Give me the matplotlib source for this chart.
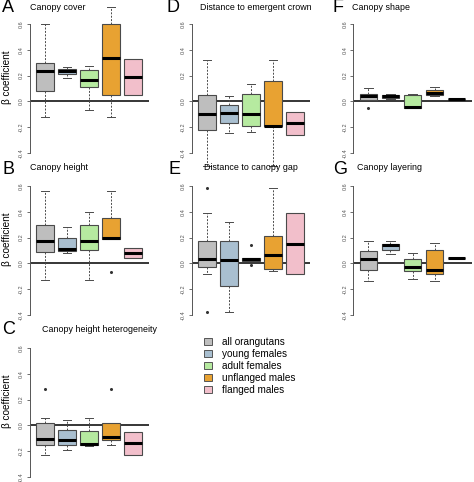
import matplotlib
matplotlib.use("Agg")
import matplotlib.pyplot as plt
from matplotlib.patches import Patch

plt.rcParams['font.family'] = ['Liberation Sans', 'DejaVu Sans']

groups = ["all orangutans", "young females", "adult females", "unflanged males", "flanged males"]
colors = ["#BEBEBE", "#A9BFD0", "#B6EAA0", "#E8A232", "#F2BFCB"]

# per group: [whisker low, q1, median, q3, whisker high]
canopy_cover = [[-0.122, 0.083, 0.239, 0.300, 0.600],
                [0.184, 0.210, 0.236, 0.255, 0.267],
                [-0.065, 0.112, 0.169, 0.242, 0.275],
                [-0.122, 0.047, 0.338, 0.600, 0.730],
                [0.052, 0.052, 0.187, 0.325, 0.325]]
canopy_cover_out = [[], [], [], [], []]

canopy_height = [[-0.131, 0.090, 0.170, 0.296, 0.562],
                 [0.080, 0.095, 0.108, 0.198, 0.286],
                 [-0.131, 0.103, 0.170, 0.300, 0.400],
                 [0.188, 0.188, 0.196, 0.353, 0.562],
                 [0.039, 0.039, 0.077, 0.121, 0.121]]
canopy_height_out = [[], [], [], [-0.070], []]

height_heterogeneity = [[-0.230, -0.151, -0.107, 0.018, 0.060],
                        [-0.190, -0.154, -0.117, -0.039, 0.039],
                        [-0.157, -0.151, -0.146, -0.042, 0.060],
                        [-0.151, -0.110, -0.091, 0.021, 0.021],
                        [-0.227, -0.227, -0.138, -0.050, -0.050]]
height_heterogeneity_out = [[0.282], [], [], [0.282], []]

emergent_crown = [[-0.500, -0.219, -0.095, 0.049, 0.324],
                  [-0.243, -0.170, -0.092, -0.030, 0.040],
                  [-0.240, -0.190, -0.095, 0.057, 0.138],
                  [-0.500, -0.192, -0.190, 0.162, 0.324],
                  [-0.257, -0.257, -0.170, -0.086, -0.086]]
emergent_crown_out = [[], [], [], [], []]

canopy_gap = [[-0.085, -0.031, 0.036, 0.175, 0.387],
              [-0.374, -0.175, 0.023, 0.173, 0.320],
              [0.018, 0.018, 0.034, 0.044, 0.044],
              [-0.062, -0.041, 0.064, 0.211, 0.582],
              [-0.082, -0.082, 0.152, 0.387, 0.387]]
canopy_gap_out = [[0.585, -0.374], [], [0.142, -0.013], [], []]

canopy_shape = [[0.013, 0.013, 0.039, 0.057, 0.106],
                [0.018, 0.026, 0.042, 0.052, 0.057],
                [-0.050, -0.050, -0.047, 0.047, 0.060],
                [0.044, 0.049, 0.068, 0.090, 0.114],
                [0.015, 0.015, 0.018, 0.021, 0.021]]
canopy_shape_out = [[-0.050], [], [], [], []]

canopy_layering = [[-0.133, -0.051, 0.033, 0.094, 0.171],
                   [0.069, 0.102, 0.140, 0.153, 0.171],
                   [-0.120, -0.056, -0.026, 0.031, 0.082],
                   [-0.133, -0.079, -0.048, 0.102, 0.158],
                   [0.041, 0.041, 0.041, 0.041, 0.041]]
canopy_layering_out = [[], [], [], [], []]

yticks = [-0.4, -0.2, 0.0, 0.2, 0.4, 0.6]
ytick_labels = ["-0.4", "-0.2", "0.0", "0.2", "0.4", "0.6"]

# panel: (letter, title, stats, outliers, col, row, title_x_px, letter_x_px)
panels = [
    ("A", "Canopy cover", canopy_cover, canopy_cover_out, 0, 0, 30, 2),
    ("B", "Canopy height", canopy_height, canopy_height_out, 0, 1, 30, 2),
    ("C", "Canopy height heterogeneity", height_heterogeneity, height_heterogeneity_out, 0, 2, 42, 2),
    ("D", "Distance to emergent crown", emergent_crown, emergent_crown_out, 1, 0, 200, 167),
    ("E", "Distance to canopy gap", canopy_gap, canopy_gap_out, 1, 1, 204, 168),
    ("F", "Canopy shape", canopy_shape, canopy_shape_out, 2, 0, 352, 332),
    ("G", "Canopy layering", canopy_layering, canopy_layering_out, 2, 1, 357, 333),
]

W, H = 474, 482
fig = plt.figure(figsize=(W / 100, H / 100), dpi=100)

col_left = [29.5, 191.5, 353.0]
row_zero = [101.4, 263.4, 425.4]
row_title = [7, 168, 329]
scale = 129.0
ylo, yhi = -0.53, 0.77

for letter, title, stats, outs, c, r, tx, lx in panels:
    left = col_left[c]
    top_px = row_zero[r] - yhi * scale
    bot_px = row_zero[r] - ylo * scale
    ax = fig.add_axes([left / W, 1 - bot_px / H, 119 / W, (bot_px - top_px) / H])
    ax.set_facecolor("none")
    bstats = []
    for s, o in zip(stats, outs):
        bstats.append(dict(whislo=s[0], q1=s[1], med=s[2], q3=s[3], whishi=s[4], fliers=o))
    bp = ax.bxp(bstats, positions=range(1, 6), widths=0.8, patch_artist=True,
                boxprops=dict(edgecolor="#4a4a4a", linewidth=0.8),
                medianprops=dict(color="black", linewidth=2.2, solid_capstyle="butt"),
                whiskerprops=dict(color="#4a4a4a", linewidth=0.7, linestyle=(0, (2, 1.5))),
                capprops=dict(color="#4a4a4a", linewidth=0.7),
                capwidths=0.4,
                flierprops=dict(marker="o", markersize=1.2, markerfacecolor="#333333",
                                markeredgecolor="#333333", linestyle="none"))
    for patch, col in zip(bp["boxes"], colors):
        patch.set_facecolor(col)
    ax.axhline(0, color="black", linewidth=1.1, zorder=0.5)
    ax.set_xlim(0.3, 5.7)
    ax.set_ylim(ylo, yhi)
    for sp in ["top", "right", "bottom"]:
        ax.spines[sp].set_visible(False)
    ax.spines["left"].set_bounds(-0.4, 0.6)
    ax.spines["left"].set_color("#555555")
    ax.spines["left"].set_linewidth(0.7)
    ax.set_xticks([])
    ax.set_yticks(yticks)
    ax.set_yticklabels(ytick_labels, rotation=90, va="center", fontsize=4, color="#555555")
    ax.tick_params(axis="y", length=2.5, width=0.6, color="#555555", pad=1.5)
    fig.text(tx / W, 1 - row_title[r] / H, title, fontsize=6.4, ha="left", va="center")
    fig.text(lx / W, 1 - (row_title[r] + 1) / H, letter, fontsize=13, ha="left", va="center")
    if c == 0:
        fig.text(7.5 / W, 1 - (row_zero[r] - 0.185 * scale) / H, "β coefficient",
                 fontsize=7.2, rotation=90, ha="center", va="center")

handles = [Patch(facecolor=col, edgecolor="#555555", linewidth=0.7) for col in colors]
fig.legend(handles, groups, loc="upper left", bbox_to_anchor=(204 / W, 1 - 337 / H),
           frameon=False, fontsize=7.2, handlelength=0.75, handleheight=0.75,
           handletextpad=1.0, labelspacing=0.2, borderpad=0, borderaxespad=0)

fig.savefig("out.png", dpi=100)
